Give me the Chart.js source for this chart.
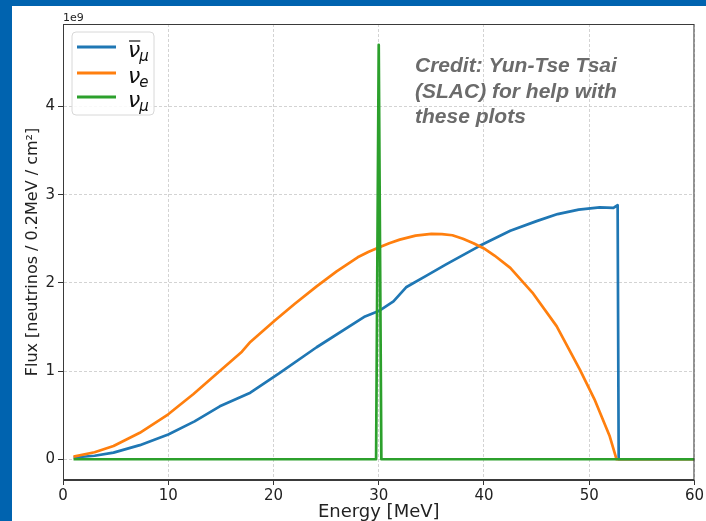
<!DOCTYPE html>
<html>
<head>
<meta charset="utf-8">
<script src="https://cdn.jsdelivr.net/npm/chart.js@4/dist/chart.umd.min.js"></script>
<style>
  html, body { margin: 0; padding: 0; background: #0063af; }
  canvas { display: block; }
</style>
</head>
<body>
<canvas id="flux" width="706" height="521"></canvas>
<script>
// flux values in units of 1e9 neutrinos / 0.2 MeV / cm^2
const antiNumuEnergy = [1, 3, 4.8, 7.3, 10, 12.5, 14.9, 17.8, 20.6, 24.1, 28.7, 30, 31.4, 32.6, 34.5, 36.4, 39.6, 42.5, 45, 47, 49, 51, 52.3, 52.7, 52.8, 60];
const antiNumuFlux   = [0.02, 0.04, 0.075, 0.16, 0.28, 0.43, 0.6, 0.755, 0.98, 1.27, 1.62, 1.68, 1.79, 1.95, 2.08, 2.21, 2.42, 2.59, 2.7, 2.78, 2.83, 2.855, 2.85, 2.88, 0, 0];

const nueEnergy = [1, 3, 4.8, 7.3, 10, 12.4, 14.9, 17, 17.8, 20.1, 22, 24.1, 26, 28, 29, 30, 31, 32, 33.5, 35, 36, 37, 38, 39, 40, 41, 42.5, 44.6, 46.9, 49.1, 50.5, 51.95, 52.6, 60];
const nueFlux   = [0.03, 0.08, 0.15, 0.3, 0.51, 0.74, 1.0, 1.22, 1.33, 1.57, 1.76, 1.96, 2.13, 2.29, 2.35, 2.4, 2.45, 2.49, 2.535, 2.555, 2.553, 2.54, 2.5, 2.45, 2.39, 2.31, 2.17, 1.89, 1.51, 1.02, 0.68, 0.26, 0, 0];

const numuEnergy = [1, 29.75, 30.0, 30.25, 60];
const numuFlux   = [0, 0, 4.7, 0, 0];

const energyTicks = [0, 10, 20, 30, 40, 50, 60];
const fluxTicks = [0, 1, 2, 3, 4];

// legend: base letter + subscript, bar = overline
const seriesLabels = [
  { base: 'ν', sub: 'μ', bar: true },
  { base: 'ν', sub: 'e', bar: false },
  { base: 'ν', sub: 'μ', bar: false },
];
const seriesColors = ['#1f77b4', '#ff7f0e', '#2ca02c'];

const creditLines = ['Credit: Yun-Tse Tsai', '(SLAC) for help with', 'these plots'];

const toXY = (xs, ys) => xs.map((x, i) => ({ x, y: ys[i] }));

const FONT = '"DejaVu Sans", sans-serif';

// ── 배경, 박스, 범례, 글자 ─────────────────────────────
const decor = {
  id: 'decor',
  beforeDraw(chart) {
    const { ctx, width, height } = chart;
    ctx.save();
    ctx.fillStyle = '#0063af';
    ctx.fillRect(0, 0, width, height);
    ctx.fillStyle = '#ffffff';
    ctx.fillRect(12, 6, width - 12, height - 6);
    ctx.restore();
  },
  afterDraw(chart) {
    const { ctx, chartArea: a } = chart;
    ctx.save();

    // axes box
    ctx.strokeStyle = '#3a3a3a';
    ctx.lineWidth = 1;
    ctx.strokeRect(a.left + 0.5, a.top + 0.5, a.right - a.left - 1, a.bottom - a.top - 1);

    // offset text
    ctx.fillStyle = '#222';
    ctx.font = '11px ' + FONT;
    ctx.textAlign = 'left';
    ctx.textBaseline = 'alphabetic';
    ctx.fillText('1e9', a.left, a.top - 3);

    // axis titles
    ctx.font = '18px ' + FONT;
    ctx.textAlign = 'center';
    ctx.fillText('Energy [MeV]', (a.left + a.right) / 2, 517);
    ctx.save();
    ctx.translate(37, (a.top + a.bottom) / 2);
    ctx.rotate(-Math.PI / 2);
    ctx.font = '16px ' + FONT;
    ctx.fillText('Flux [neutrinos / 0.2MeV / cm²]', 0, 0);
    ctx.restore();

    // legend
    const lx = 72, ly = 32, lw = 82, lh = 83, r = 4;
    ctx.beginPath();
    ctx.moveTo(lx + r, ly);
    ctx.arcTo(lx + lw, ly, lx + lw, ly + lh, r);
    ctx.arcTo(lx + lw, ly + lh, lx, ly + lh, r);
    ctx.arcTo(lx, ly + lh, lx, ly, r);
    ctx.arcTo(lx, ly, lx + lw, ly, r);
    ctx.closePath();
    ctx.fillStyle = 'rgba(255,255,255,0.85)';
    ctx.fill();
    ctx.strokeStyle = '#d8d8d8';
    ctx.lineWidth = 1;
    ctx.stroke();

    const rows = [47, 73, 97];
    seriesLabels.forEach((lab, i) => {
      const y = rows[i];
      ctx.strokeStyle = seriesColors[i];
      ctx.lineWidth = 2.8;
      ctx.beginPath();
      ctx.moveTo(77, y);
      ctx.lineTo(116, y);
      ctx.stroke();

      ctx.fillStyle = '#111';
      ctx.textAlign = 'left';
      ctx.font = 'italic 22px ' + FONT;
      const bx = 128, base = y + 10;
      ctx.fillText(lab.base, bx, base);
      const w = ctx.measureText(lab.base).width;
      if (lab.bar) {
        ctx.strokeStyle = '#111';
        ctx.lineWidth = 1.2;
        ctx.beginPath();
        ctx.moveTo(bx + 1, y - 6);
        ctx.lineTo(bx + w, y - 6);
        ctx.stroke();
      }
      ctx.font = 'italic 15px ' + FONT;
      ctx.fillText(lab.sub, bx + w - 1, base + 4);
    });

    // credit note
    ctx.fillStyle = '#6b6b6b';
    ctx.font = 'italic bold 21px "Liberation Sans", Arial, sans-serif';
    ctx.textAlign = 'left';
    [72, 98, 123].forEach((y, i) => ctx.fillText(creditLines[i], 415, y));

    ctx.restore();
  },
};

const gridOpts = {
  color: '#c8c8c8',
  lineWidth: 0.8,
  tickColor: '#333',
  tickLength: 5,
  tickWidth: 1,
  tickBorderDash: [],
};
const tickFont = { family: FONT, size: 15 };

new Chart(document.getElementById('flux'), {
  type: 'scatter',
  data: {
    datasets: [
      { label: 'anti-numu', data: toXY(antiNumuEnergy, antiNumuFlux), borderColor: seriesColors[0], order: 3 },
      { label: 'nue', data: toXY(nueEnergy, nueFlux), borderColor: seriesColors[1], order: 2 },
      { label: 'numu', data: toXY(numuEnergy, numuFlux), borderColor: seriesColors[2], order: 1 },
    ].map(d => ({
      ...d,
      showLine: true,
      pointRadius: 0,
      borderWidth: 2.7,
      tension: 0,
      borderJoinStyle: 'round',
      borderCapStyle: 'butt',
    })),
  },
  options: {
    responsive: false,
    animation: false,
    devicePixelRatio: 1,
    layout: { padding: { left: 0, top: 24, right: 11, bottom: 0 } },
    plugins: { legend: { display: false }, tooltip: { enabled: false } },
    scales: {
      x: {
        type: 'linear',
        min: 0,
        max: 60,
        afterBuildTicks: s => { s.ticks = energyTicks.map(v => ({ value: v })); },
        afterFit: s => { s.height = 41; },
        grid: gridOpts,
        border: { display: true, color: '#3a3a3a', dash: [3, 2] },
        ticks: { font: tickFont, color: '#222', padding: 2, maxRotation: 0 },
      },
      y: {
        type: 'linear',
        min: -0.235,
        max: 4.935,
        afterBuildTicks: s => { s.ticks = fluxTicks.map(v => ({ value: v })); },
        afterFit: s => { s.width = 63; },
        grid: gridOpts,
        border: { display: true, color: '#3a3a3a', dash: [3, 2] },
        ticks: { font: tickFont, color: '#222', padding: 3 },
      },
    },
  },
  plugins: [decor],
});
</script>
</body>
</html>
